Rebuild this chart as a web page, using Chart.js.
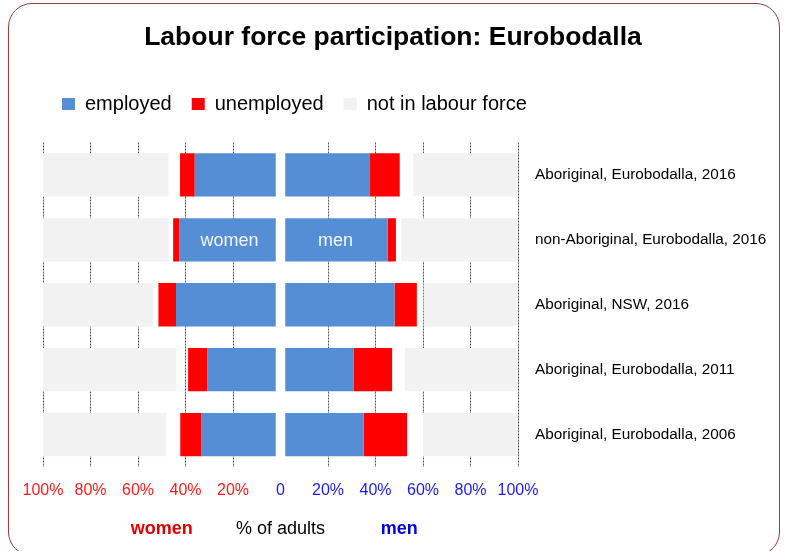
<!DOCTYPE html>
<html>
<head>
<meta charset="utf-8">
<script src="https://cdn.jsdelivr.net/npm/chart.js@4"></script>
<style>
    html, body { margin: 0; padding: 0; background: #fff; }
    #wrap { position: relative; width: 786px; height: 551px; overflow: hidden; }
    #frame {
        position: absolute; left: 8px; top: 3px; width: 770px; height: 551px;
        border: 1px solid #9b3a3a; border-radius: 24px; pointer-events: none;
    }
</style>
</head>
<body>
<div id="wrap">
    <canvas id="lfpChart" width="786" height="551"></canvas>
    <div id="frame"></div>
</div>
<script>
// categories (top to bottom)
const groups = [
    'Aboriginal, Eurobodalla, 2016',
    'non-Aboriginal, Eurobodalla, 2016',
    'Aboriginal, NSW, 2016',
    'Aboriginal, Eurobodalla, 2011',
    'Aboriginal, Eurobodalla, 2006'
];

// % of adults
const womenEmployed   = [34.1, 40.7, 42.0, 28.9, 31.2];
const womenUnemployed = [6.2, 2.5, 7.4, 8.0, 9.0];
const womenNotInLF    = [52.9, 52.9, 46.4, 56.0, 51.8];

const menEmployed     = [35.7, 43.2, 46.0, 28.9, 33.0];
const menUnemployed   = [12.5, 3.4, 9.4, 16.1, 18.3];
const menNotInLF      = [44.0, 49.1, 39.7, 47.6, 40.0];

const xTicks = [-100, -80, -60, -40, -20, 0, 20, 40, 60, 80, 100];

// small white gap either side of zero
const CENTRE_GAP = 2;

const BLUE = '#558ed5';
const RED = '#ff0000';
const GREY = '#f2f2f2';
const FONT = "'Liberation Sans', Arial, sans-serif";

// build floating bars: employed from the centre out, then unemployed,
// not in labour force anchored at the outer 100% edge
function side(emp, unemp, nilf, sign) {
    return {
        emp: emp.map(e => [sign * CENTRE_GAP, sign * (CENTRE_GAP + e)]),
        unemp: unemp.map((u, i) => [sign * (CENTRE_GAP + emp[i]), sign * (CENTRE_GAP + emp[i] + u)]),
        nilf: nilf.map(n => [sign * (100 - n), sign * 100])
    };
}
const women = side(womenEmployed, womenUnemployed, womenNotInLF, -1);
const men = side(menEmployed, menUnemployed, menNotInLF, 1);

function bar(label, data, color) {
    return {
        label: label,
        data: data,
        backgroundColor: color,
        borderWidth: 0,
        grouped: false,
        categoryPercentage: 1,
        barPercentage: 0.667
    };
}

// title, labels inside the bars and the women / men words under the axis
const extraText = {
    id: 'extraText',
    afterDraw(chart) {
        const ctx = chart.ctx;
        ctx.save();
        ctx.textAlign = 'center';
        ctx.textBaseline = 'middle';

        ctx.font = 'bold 26.5px ' + FONT;
        ctx.fillStyle = '#000';
        ctx.fillText('Labour force participation: Eurobodalla', chart.width / 2, 38);

        ctx.font = '18px ' + FONT;
        ctx.fillStyle = '#f4f6fb';
        const w = chart.getDatasetMeta(0).data[1].getCenterPoint();
        const m = chart.getDatasetMeta(3).data[1].getCenterPoint();
        ctx.fillText('women', w.x + 2, w.y + 1);
        ctx.fillText('men', m.x - 1, m.y + 1);

        const x = chart.scales.x;
        ctx.font = 'bold 18px ' + FONT;
        ctx.fillStyle = '#e00000';
        ctx.fillText('women', x.getPixelForValue(-50), 529);
        ctx.fillStyle = '#0000ee';
        ctx.fillText('men', x.getPixelForValue(50), 529);
        ctx.restore();
    }
};

const ctx = document.getElementById('lfpChart').getContext('2d');
new Chart(ctx, {
    type: 'bar',
    data: {
        labels: groups,
        datasets: [
            bar('employed', women.emp, BLUE),
            bar('unemployed', women.unemp, RED),
            bar('not in labour force', women.nilf, GREY),
            bar('employed', men.emp, BLUE),
            bar('unemployed', men.unemp, RED),
            bar('not in labour force', men.nilf, GREY)
        ]
    },
    options: {
        indexAxis: 'y',
        responsive: false,
        animation: false,
        layout: {
            padding: { left: 42, right: 0, top: 74, bottom: 0 }
        },
        plugins: {
            title: { display: false },
            legend: {
                display: true,
                position: 'top',
                align: 'start',
                labels: {
                    filter: item => item.datasetIndex < 3,
                    color: '#000',
                    font: { family: FONT, size: 20 },
                    boxWidth: 13,
                    boxHeight: 12,
                    padding: 20
                }
            },
            tooltip: { enabled: false }
        },
        scales: {
            x: {
                type: 'linear',
                position: 'bottom',
                min: -100,
                max: 100,
                afterBuildTicks: scale => {
                    scale.ticks = xTicks.map(v => ({ value: v }));
                },
                afterFit: scale => { scale.height = 84; },
                grid: {
                    color: c => (c.tick && c.tick.value === 0) ? 'rgba(0,0,0,0)' : '#555',
                    lineWidth: 1,
                    drawTicks: false
                },
                border: { display: false, dash: [2, 1] },
                ticks: {
                    padding: 14,
                    font: { family: FONT, size: 16 },
                    color: c => c.tick.value < 0 ? '#ff1a1a' : '#1a1aff',
                    callback: v => v === 0 ? '0' : Math.abs(v) + '%'
                },
                title: {
                    display: true,
                    text: '% of adults',
                    color: '#000',
                    font: { family: FONT, size: 18 },
                    padding: { top: 4, bottom: 11 }
                }
            },
            xTop: {
                type: 'linear',
                position: 'top',
                min: -100,
                max: 100,
                grid: { display: false, drawTicks: false },
                border: { display: false },
                ticks: { display: false },
                afterFit: scale => { scale.height = 18.5; }
            },
            xLeft: {
                type: 'category',
                position: 'left',
                grid: { display: false, drawTicks: false },
                border: { display: false },
                ticks: { display: false },
                afterFit: scale => { scale.width = 1; }
            },
            y: {
                position: 'right',
                grid: { display: false, drawTicks: false },
                border: { display: false },
                afterFit: scale => { scale.width = 268; },
                ticks: {
                    padding: 17,
                    color: '#000',
                    font: { family: FONT, size: 15.3 }
                }
            }
        }
    },
    plugins: [extraText]
});
</script>
</body>
</html>
